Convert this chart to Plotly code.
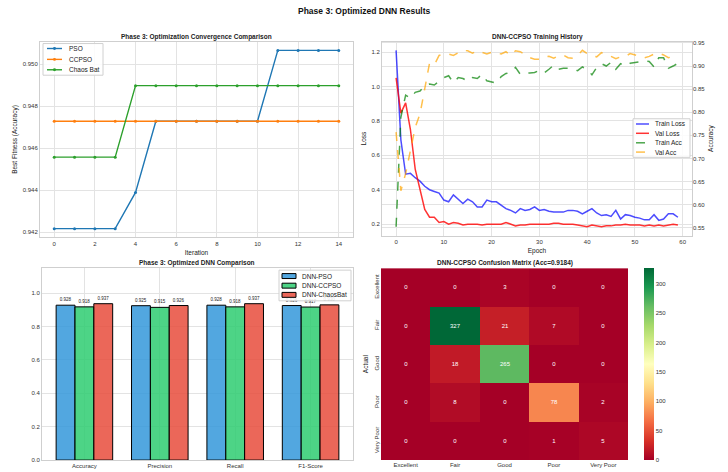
import plotly.graph_objects as go

# ---------------- data ----------------
iterations = list(range(15))
pso_fit = [0.94216, 0.94216, 0.94216, 0.94216, 0.94389, 0.94728, 0.94728, 0.94728, 0.94728,
           0.94728, 0.94728, 0.95066, 0.95066, 0.95066, 0.95066]
ccpso_fit = [0.94728] * 15
chaos_fit = [0.94557, 0.94557, 0.94557, 0.94557, 0.94898, 0.94898, 0.94898, 0.94898, 0.94898,
             0.94898, 0.94898, 0.94898, 0.94898, 0.94898, 0.94898]

epochs = list(range(60))
train_loss = [1.21, 0.69, 0.49, 0.495, 0.47, 0.45, 0.42, 0.40, 0.39, 0.38,
              0.34, 0.33, 0.37, 0.345, 0.32, 0.345, 0.33, 0.30, 0.30, 0.34,
              0.33, 0.33, 0.31, 0.29, 0.28, 0.265, 0.29, 0.28, 0.285, 0.30,
              0.28, 0.285, 0.275, 0.27, 0.27, 0.27, 0.28, 0.28, 0.275, 0.26,
              0.275, 0.29, 0.265, 0.25, 0.255, 0.245, 0.28, 0.23, 0.255, 0.25,
              0.24, 0.235, 0.225, 0.225, 0.255, 0.222, 0.23, 0.26, 0.26, 0.24]
val_loss = [1.05, 0.845, 0.905, 0.75, 0.52, 0.40, 0.285, 0.24, 0.24, 0.21,
            0.215, 0.20, 0.21, 0.205, 0.195, 0.20, 0.20, 0.20, 0.195, 0.20,
            0.20, 0.20, 0.20, 0.21, 0.20, 0.19, 0.195, 0.195, 0.20, 0.20,
            0.20, 0.20, 0.20, 0.205, 0.205, 0.20, 0.20, 0.20, 0.195, 0.19,
            0.185, 0.195, 0.19, 0.185, 0.19, 0.19, 0.195, 0.195, 0.20, 0.195,
            0.195, 0.195, 0.19, 0.195, 0.19, 0.195, 0.19, 0.195, 0.20, 0.195]
train_acc = [0.552, 0.789, 0.837, 0.830, 0.843, 0.846, 0.857, 0.861, 0.859, 0.868,
             0.875, 0.879, 0.864, 0.875, 0.873, 0.867, 0.875, 0.873, 0.882, 0.868,
             0.866, 0.863, 0.877, 0.884, 0.886, 0.897, 0.882, 0.885, 0.885, 0.886,
             0.891, 0.885, 0.893, 0.902, 0.893, 0.895, 0.895, 0.893, 0.890, 0.898,
             0.893, 0.881, 0.897, 0.905, 0.900, 0.908, 0.893, 0.905, 0.900, 0.906,
             0.907, 0.909, 0.911, 0.910, 0.898, 0.918, 0.918, 0.895, 0.900, 0.906]
val_acc = [0.757, 0.630, 0.667, 0.717, 0.767, 0.796, 0.854, 0.906, 0.902, 0.923,
           0.926, 0.926, 0.923, 0.929, 0.934, 0.933, 0.928, 0.933, 0.930, 0.926,
           0.930, 0.929, 0.926, 0.931, 0.923, 0.933, 0.931, 0.924, 0.918, 0.915,
           0.915, 0.920, 0.921, 0.917, 0.922, 0.924, 0.918, 0.917, 0.923, 0.934,
           0.927, 0.923, 0.920, 0.929, 0.926, 0.921, 0.916, 0.920, 0.921, 0.927,
           0.924, 0.921, 0.918, 0.921, 0.926, 0.928, 0.924, 0.918, 0.921, 0.923]

metrics = ["Accuracy", "Precision", "Recall", "F1-Score"]
dnn_pso = [0.928, 0.925, 0.928, 0.926]
dnn_ccpso = [0.918, 0.915, 0.918, 0.917]
dnn_chaosbat = [0.937, 0.926, 0.937, 0.930]

classes = ["Excellent", "Fair", "Good", "Poor", "Very Poor"]
conf_matrix = [
    [0, 0, 3, 0, 0],
    [0, 327, 21, 7, 0],
    [0, 18, 265, 0, 0],
    [0, 8, 0, 78, 2],
    [0, 0, 0, 1, 5],
]

# ---------------- layout helpers ----------------
W, H = 728, 472
FONT = "Liberation Sans, Arial, sans-serif"
GRID = "#e3e3e3"
SPINE = "#cfcfcf"
TICKC = "#333333"


def px_x(p):
    return p / W


def px_y(p):
    return 1 - p / H


tl_x = [px_x(40), px_x(353)]
tl_y = [px_y(238), px_y(40)]
tr_x = [px_x(382), px_x(692)]
tr_y = [px_y(236), px_y(40)]
bl_x = [px_x(42), px_x(353)]
bl_y = [px_y(463), px_y(269)]
br_x = [px_x(381), px_x(628)]
br_y = [px_y(463), px_y(269)]

fig = go.Figure()

tl_series = [("PSO", pso_fit, "#1f77b4"), ("CCPSO", ccpso_fit, "#ff7f0e"),
             ("Chaos Bat", chaos_fit, "#2ca02c")]
for name, vals, col in tl_series:
    fig.add_trace(go.Scatter(x=iterations, y=vals, name=name, mode="lines+markers",
                             line=dict(color=col, width=1.4), marker=dict(size=3, color=col),
                             xaxis="x", yaxis="y", showlegend=False))

tr_series = [("Train Loss", train_loss, "rgba(0,0,255,0.7)", "solid", "y2"),
             ("Val Loss", val_loss, "rgba(255,0,0,0.8)", "solid", "y2"),
             ("Train Acc", train_acc, "rgba(0,128,0,0.7)", "dash", "y3"),
             ("Val Acc", val_acc, "rgba(255,165,0,0.7)", "dash", "y3")]
for name, vals, col, dash, ya in tr_series:
    fig.add_trace(go.Scatter(x=epochs, y=vals, name=name, mode="lines",
                             line=dict(color=col, width=1.5, dash=dash),
                             xaxis="x2", yaxis=ya, showlegend=False))

bl_series = [("DNN-PSO", dnn_pso, "rgba(52,152,219,0.85)"),
             ("DNN-CCPSO", dnn_ccpso, "rgba(46,204,113,0.85)"),
             ("DNN-ChaosBat", dnn_chaosbat, "rgba(231,76,60,0.85)")]
for name, vals, col in bl_series:
    fig.add_trace(go.Bar(x=list(range(len(metrics))), y=vals, name=name,
                         marker=dict(color=col, line=dict(color="black", width=1)),
                         text=[f"{v:.3f}" for v in vals], textposition="outside",
                         textfont=dict(size=4.5, color="#222", family=FONT), cliponaxis=False,
                         xaxis="x4", yaxis="y4", showlegend=False))

fig.add_trace(go.Heatmap(z=conf_matrix, x=classes, y=classes, colorscale="RdYlGn",
                         zmin=0, zmax=327,
                         text=conf_matrix, texttemplate="%{text}",
                         textfont=dict(size=6, color="white", family=FONT),
                         showscale=True,
                         colorbar=dict(x=px_x(644), xanchor="left", xpad=0,
                                       y=br_y[0], yanchor="bottom", ypad=0,
                                       len=br_y[1] - br_y[0], lenmode="fraction",
                                       thickness=10, outlinewidth=0,
                                       tickvals=[0, 50, 100, 150, 200, 250, 300],
                                       tickfont=dict(size=6, color=TICKC, family=FONT),
                                       ticks=""),
                         xaxis="x5", yaxis="y5", showlegend=False))

axis_common = dict(showgrid=True, gridcolor=GRID, gridwidth=1, zeroline=False,
                   showline=True, linecolor=SPINE, linewidth=1, mirror=True,
                   ticks="", tickfont=dict(size=6, color=TICKC, family=FONT))

title_font = dict(size=6.5, color="#222", family=FONT)

fig.update_layout(
    width=W, height=H, margin=dict(l=0, r=0, t=0, b=0),
    paper_bgcolor="white", plot_bgcolor="white",
    font=dict(family=FONT, size=6, color=TICKC),
    showlegend=False,
    barmode="group", bargap=0.25, bargroupgap=0,
    xaxis=dict(domain=tl_x, anchor="y", range=[-0.7, 14.7], dtick=2,
               title=dict(text="Iteration", font=title_font, standoff=4), **axis_common),
    yaxis=dict(domain=tl_y, anchor="x", range=[0.94174, 0.95108], dtick=0.002,
               tickformat=".3f",
               title=dict(text="Best Fitness (Accuracy)", font=title_font, standoff=4),
               **axis_common),
    xaxis2=dict(domain=tr_x, anchor="y2", range=[-2.95, 61.95], dtick=10,
                title=dict(text="Epoch", font=title_font, standoff=4), **axis_common),
    yaxis2=dict(domain=tr_y, anchor="x2", range=[0.134, 1.261], dtick=0.2, tickformat=".1f",
                title=dict(text="Loss", font=title_font, standoff=4), **axis_common),
    yaxis3=dict(overlaying="y2", side="right", anchor="x2", range=[0.533, 0.953], dtick=0.05,
                tickformat=".2f",
                title=dict(text="Accuracy", font=title_font, standoff=4),
                showgrid=True, gridcolor=GRID, zeroline=False, showline=False, ticks="",
                tickfont=dict(size=6, color=TICKC, family=FONT)),
    xaxis4=dict(domain=bl_x, anchor="y4", range=[-0.5625, 3.5625],
                tickvals=list(range(len(metrics))), ticktext=metrics, **axis_common),
    yaxis4=dict(domain=bl_y, anchor="x4", range=[0, 1.15], dtick=0.2, tickformat=".1f",
                **axis_common),
    xaxis5=dict(domain=br_x, anchor="y5", showgrid=False, zeroline=False, showline=False,
                ticks="", tickfont=dict(size=6, color=TICKC, family=FONT)),
    yaxis5=dict(domain=br_y, anchor="x5", autorange="reversed", showgrid=False, zeroline=False,
                showline=False, ticks="", tickangle=-90,
                tickfont=dict(size=6, color=TICKC, family=FONT),
                title=dict(text="Actual", font=title_font, standoff=4)),
)

ann = [
    dict(text="<b>Phase 3: Optimized DNN Results</b>", x=0.5, y=px_y(9),
         font=dict(size=8.5, color="#111", family=FONT)),
    dict(text="<b>Phase 3: Optimization Convergence Comparison</b>", x=sum(tl_x) / 2,
         y=px_y(35), font=title_font),
    dict(text="<b>DNN-CCPSO Training History</b>", x=sum(tr_x) / 2, y=px_y(35),
         font=title_font),
    dict(text="<b>Phase 3: Optimized DNN Comparison</b>", x=sum(bl_x) / 2, y=px_y(264),
         font=title_font),
    dict(text="<b>DNN-CCPSO Confusion Matrix (Acc=0.9184)</b>", x=sum(br_x) / 2, y=px_y(264),
         font=title_font),
]
for a in ann:
    a.update(xref="paper", yref="paper", showarrow=False, xanchor="center", yanchor="middle")

shapes = []
leg_font = dict(size=6.5, color="#222", family=FONT)


def add_legend(box, rows, sym_x, text_x):
    x0, y0, x1, y1 = box
    shapes.append(dict(type="rect", xref="paper", yref="paper", x0=px_x(x0), x1=px_x(x1),
                       y0=px_y(y1), y1=px_y(y0), fillcolor="rgba(255,255,255,0.85)",
                       line=dict(color="#d0d0d0", width=1), layer="above"))
    for (label, kind, col, dash, yy) in rows:
        if kind == "line":
            shapes.append(dict(type="line", xref="paper", yref="paper", x0=px_x(sym_x[0]),
                               x1=px_x(sym_x[1]), y0=px_y(yy), y1=px_y(yy),
                               line=dict(color=col, width=1.5, dash=dash), layer="above"))
        elif kind == "linemark":
            shapes.append(dict(type="line", xref="paper", yref="paper", x0=px_x(sym_x[0]),
                               x1=px_x(sym_x[1]), y0=px_y(yy), y1=px_y(yy),
                               line=dict(color=col, width=1.4), layer="above"))
            cx = (sym_x[0] + sym_x[1]) / 2
            shapes.append(dict(type="circle", xref="paper", yref="paper", x0=px_x(cx - 1.5),
                               x1=px_x(cx + 1.5), y0=px_y(yy + 1.5), y1=px_y(yy - 1.5),
                               fillcolor=col, line=dict(color=col, width=0), layer="above"))
        else:
            shapes.append(dict(type="rect", xref="paper", yref="paper", x0=px_x(sym_x[0]),
                               x1=px_x(sym_x[1]), y0=px_y(yy + 2.5), y1=px_y(yy - 2.5),
                               fillcolor=col, line=dict(color="black", width=1), layer="above"))
        ann.append(dict(text=label, x=px_x(text_x), y=px_y(yy), xref="paper", yref="paper",
                        showarrow=False, xanchor="left", yanchor="middle", font=leg_font))


add_legend((43, 42, 103, 74),
           [(n, "linemark", c, "solid", yy) for (n, _, c), yy in zip(tl_series, [47, 58, 68.5])],
           (47, 62), 67)
add_legend((633, 118, 690, 157),
           [(n, "line", c, "solid" if d == "solid" else "dash", yy)
            for (n, _, c, d, _), yy in zip(tr_series, [123.3, 132.7, 142.3, 151.7])],
           (636, 649), 653)
add_legend((279, 271, 351, 302),
           [(n, "patch", c, "solid", yy) for (n, _, c), yy in zip(bl_series, [277, 286.7, 296])],
           (282, 296), 300)

fig.update_layout(annotations=ann, shapes=shapes)

fig.write_html("out.html", config={"displayModeBar": False},
               post_script="document.body.style.margin='0';document.body.style.padding='0';")
